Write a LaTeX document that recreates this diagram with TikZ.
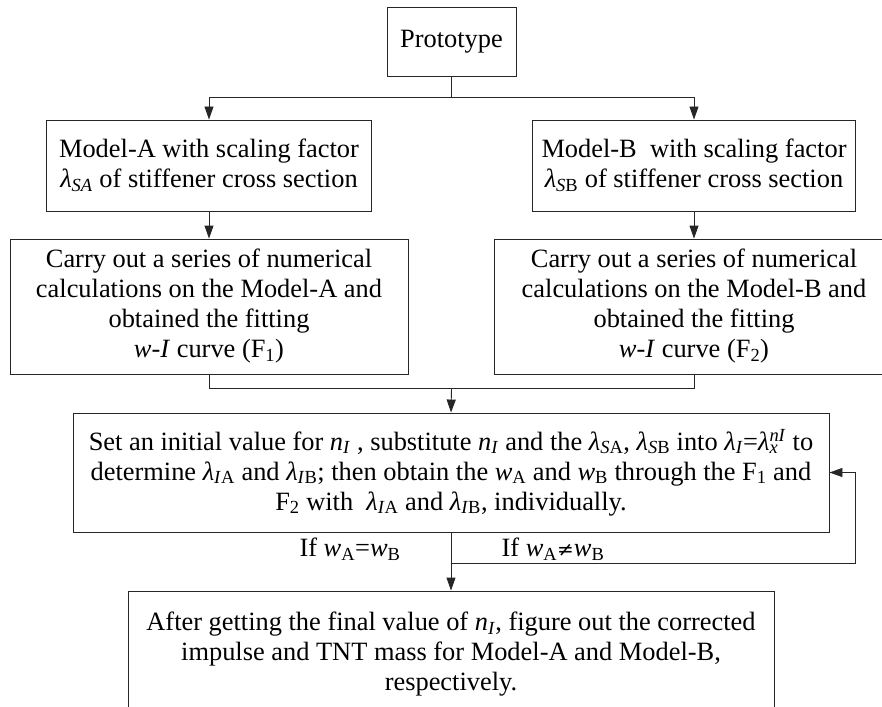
\documentclass[tikz,border=0pt]{standalone}
\usepackage{fontspec}
\setmainfont{Liberation Serif}
\usetikzlibrary{arrows.meta}
\newcommand{\lsub}[1]{\textsubscript{#1}}
\begin{document}
\begin{tikzpicture}[x=1pt,y=-1pt,
  box/.style={draw=black!85, line width=0.9pt, inner sep=0pt, align=center,
    font=\fontsize{26.4}{30}\selectfont},
  lab/.style={inner sep=0pt, font=\fontsize{26.4}{30}\selectfont},
  conn/.style={draw=black!85, line width=0.9pt},
  arr/.style={conn, -{Triangle[length=13pt,width=9pt]}}]
\useasboundingbox (0,0) rectangle (882,706);
\node[box, minimum width=129pt, minimum height=69pt] (proto) at (451.5,41.5) {Prototype};
\node[box, minimum width=325pt, minimum height=91pt] (modelA) at (209,165.5)
  {Model-A with scaling factor\\ \textit{λ}\lsub{\textit{SA}} of stiffener cross section};
\node[box, minimum width=323pt, minimum height=91pt] (modelB) at (694,165.5)
  {Model-B~ with scaling factor\\ \textit{λ}\lsub{\textit{S}B} of stiffener cross section};
\node[box, minimum width=398pt, minimum height=135pt] (carryA) at (209,306.5)
  {Carry out a series of numerical\\ calculations on the Model-A and\\ obtained the fitting\\ \textit{w}-\textit{I} curve (F\lsub{1})};
\node[box, minimum width=400pt, minimum height=135pt] (carryB) at (694,306.5)
  {Carry out a series of numerical\\ calculations on the Model-B and\\ obtained the fitting\\ \textit{w}-\textit{I} curve (F\lsub{2})};
\node[box, minimum width=756pt, minimum height=119pt] (setbox) at (451,472.5)
  {Set an initial value for \textit{n}\lsub{\textit{I}} , substitute \textit{n}\lsub{\textit{I}} and the \textit{λ}\lsub{\textit{S}A}, \textit{λ}\lsub{\textit{S}B} into \textit{λ}\lsub{\textit{I}}=\textit{λ}\rlap{\lsub{\textit{x}}}\textsuperscript{\textit{nI}} to\\
   determine \textit{λ}\lsub{\textit{I}A} and \textit{λ}\lsub{\textit{I}B}; then obtain the \textit{w}\lsub{A} and \textit{w}\lsub{B} through the F\lsub{1} and\\
   F\lsub{2} with~ \textit{λ}\lsub{\textit{I}A} and \textit{λ}\lsub{\textit{I}B}, individually.};
\node[box, minimum width=646pt, minimum height=126pt] (final) at (451,654)
  {After getting the final value of \textit{n}\lsub{\textit{I}}, figure out the corrected\\ impulse and TNT mass for Model-A and Model-B,\\ respectively.};
\coordinate (join) at (451.5,388);
\coordinate (fb) at (451.5,563);
\coordinate (fbc) at (855,563);
\draw[arr] (proto.south) -- ++(0,21) -| (modelA.north);
\draw[arr] (proto.south) -- ++(0,21) -| (modelB.north);
\draw[arr] (modelA.south) -- (carryA.north);
\draw[arr] (modelB.south) -- (carryB.north);
\draw[conn] (carryA.south) |- (join);
\draw[conn] (carryB.south) |- (join);
\draw[arr] (join) -- (setbox.north);
\draw[arr] (setbox.south) -- (final.north);
\draw[arr] (fb) -- (fbc) |- (setbox.east);
\node[lab] (ifeq) at (350,549) {If \textit{w}\lsub{A}=\textit{w}\lsub{B}};
\node[lab] (ifne) at (553,549) {If \textit{w}\lsub{A}{\fontspec{DejaVu Serif}\fontsize{20}{20}\selectfont ≠}\textit{w}\lsub{B}};
\end{tikzpicture}
\end{document}
